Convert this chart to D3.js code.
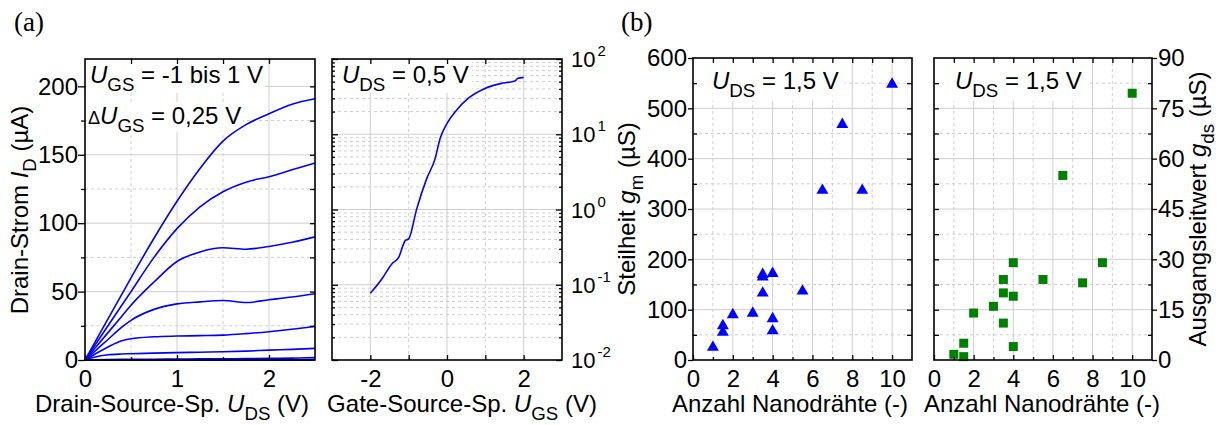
<!DOCTYPE html>
<html>
<head>
<meta charset="utf-8">
<script src="https://cdn.jsdelivr.net/npm/d3@7"></script>
<style>
  body { margin: 0; background: #fff; }
</style>
</head>
<body>
<svg id="fig" width="1220" height="425"></svg>
<script>
//Data ----------
//(a) output curves, I_D (uA) over U_DS (V), one array per U_GS
const uds = [0, 0.1, 0.25, 0.4, 0.5, 0.75, 1.0, 1.25, 1.5, 1.75, 2.0, 2.25, 2.5];
const id_p100 = [0, 12, 30, 48, 60, 89, 116, 140, 160, 172, 180, 187, 191];
const id_p075 = [0, 10, 25, 40, 50, 75, 96, 112, 123, 130, 134, 139, 144];
const id_p050 = [0, 8, 20, 32, 40, 57, 72, 79, 82, 81, 83, 86, 90];
const id_p025 = [0, 6, 15, 24, 29, 37, 41, 42.5, 43.5, 42, 44, 46, 48.5];
const id_000 = [0, 4, 9.5, 14, 15.5, 17, 17.5, 17.8, 18.2, 19.3, 20.7, 22.5, 24.5];
const id_m025 = [0, 2, 3.8, 4.4, 4.6, 5, 5.4, 5.7, 6, 6.5, 7.2, 7.8, 8.5];
const id_m050 = [0, 0.2, 0.4, 0.5, 0.5, 0.6, 0.7, 0.8, 0.9, 1.0, 1.2, 1.4, 1.7];
const id_m075 = [0, 0.02, 0.05, 0.07, 0.08, 0.1, 0.1, 0.12, 0.14, 0.16, 0.18, 0.2, 0.25];
const id_m100 = [0, 0, 0.01, 0.01, 0.01, 0.02, 0.02, 0.02, 0.03, 0.03, 0.03, 0.04, 0.04];
const outputCurves = [id_p100, id_p075, id_p050, id_p025, id_000, id_m025, id_m050, id_m075, id_m100];

//(a) transfer curve, U_DS = 0,5 V
const ugs = [-2.0, -1.7, -1.44, -1.26, -1.09, -1.0, -0.79, -0.53, -0.31, -0.18, 0.0, 0.21, 0.55, 0.99, 1.42, 1.77, 1.85, 2.0];
const idTransfer = [0.077, 0.119, 0.189, 0.231, 0.386, 0.407, 1.02, 2.57, 4.74, 8.77, 13.9, 19.8, 29.9, 40.6, 47.4, 50.9, 55.3, 57];

//(b) transconductance and output conductance over number of nanowires
const nwGm = [1, 1.5, 1.5, 2, 3, 3.5, 3.5, 3.5, 4, 4, 4, 5.5, 6.5, 7.5, 8.5, 10];
const gm = [25, 68, 55, 90, 93, 170, 165, 133, 172, 82, 58, 137, 337, 468, 337, 548];
const nwGds = [1, 1.5, 1.5, 2, 3, 3.5, 3.5, 3.5, 4, 4, 4, 5.5, 6.5, 7.5, 8.5, 10];
const gds = [1.7, 1, 5, 14, 16, 24, 20, 11, 29, 19, 4, 24, 55, 23, 29, 79.5];

//Tick labels
const ticksA1x = [0, 1, 2];
const ticksA1y = [0, 50, 100, 150, 200];
const ticksA2x = [-2, 0, 2];
const ticksA2y = [-2, -1, 0, 1, 2]; //exponents of 10
const ticksBx = [0, 2, 4, 6, 8, 10];
const ticksB1y = [0, 100, 200, 300, 400, 500, 600];
const ticksB2y = [0, 15, 30, 45, 60, 75, 90];

//Styles ----------
const FONT = "'Liberation Sans', Arial, sans-serif";
const FS = 24;
const BLUE = "#0000ff";
const GREEN = "#008000";
const GRID = "#cfcfcf";

const svg = d3.select("#fig");

//Helpers ----------
//Rich text: parts = [{t, i (italic), sub}]
function rich(sel, parts, size) {
  let shift = 0;
  parts.forEach((p) => {
    const target = p.sub ? size * 0.32 : 0;
    const ts = sel.append("tspan").text(p.t).attr("dy", target - shift);
    shift = target;
    if (p.i) ts.attr("font-style", "italic");
    if (p.sub) ts.attr("font-size", size * 0.78);
  });
  return sel;
}

function gridLines(g, x, y, xs, ys, dashed) {
  const [x0, x1] = x.range();
  const [y0, y1] = y.range();
  const lines = g.append("g")
    .attr("stroke", GRID)
    .attr("stroke-width", 1)
    .attr("stroke-dasharray", dashed ? "3,3" : null);
  lines.selectAll(null).data(xs).join("line")
    .attr("x1", (d) => x(d)).attr("x2", (d) => x(d))
    .attr("y1", y0).attr("y2", y1);
  lines.selectAll(null).data(ys).join("line")
    .attr("x1", x0).attr("x2", x1)
    .attr("y1", (d) => y(d)).attr("y2", (d) => y(d));
}

//Axis with ticks only (size > 0 outward, < 0 inward)
function axis(g, fn, scale, vals, size, fmt, pad, tx, ty) {
  const a = g.append("g")
    .attr("transform", `translate(${tx},${ty})`)
    .call(fn(scale).tickValues(vals).tickSize(size).tickPadding(pad)
      .tickFormat(fmt || (() => "")));
  a.select(".domain").remove();
  a.selectAll(".tick line").attr("stroke", "#000").attr("stroke-width", 1.3);
  a.selectAll(".tick text")
    .attr("font-size", FS).attr("font-family", FONT).attr("fill", "#000");
  return a;
}

function frame(g, x, y) {
  const [x0, x1] = x.range();
  const [y0, y1] = y.range();
  g.append("rect")
    .attr("x", x0).attr("y", y1)
    .attr("width", x1 - x0).attr("height", y0 - y1)
    .attr("fill", "none").attr("stroke", "#000").attr("stroke-width", 1.6);
}

//White box behind annotation text
function textBox(g, textSel, xLeft, yTop, padR, padB) {
  const bb = textSel.node().getBBox();
  g.insert("rect", ".data")
    .attr("x", xLeft).attr("y", yTop)
    .attr("width", bb.x + bb.width + padR - xLeft)
    .attr("height", bb.y + bb.height + padB - yTop)
    .attr("fill", "#fff");
}

function annot(g, x, y, parts) {
  const t = g.append("text")
    .attr("x", x).attr("y", y)
    .attr("font-size", FS).attr("font-family", FONT);
  return rich(t, parts, FS);
}

function title(g, x, y, parts, rotate) {
  const t = g.append("text")
    .attr("text-anchor", "middle")
    .attr("font-size", FS).attr("font-family", FONT)
    .attr("transform", `translate(${x},${y})` + (rotate ? " rotate(-90)" : ""));
  return rich(t, parts, FS);
}

function range(a, b, step) {
  return d3.range(a, b + step / 2, step);
}

//Panel labels ----------
svg.append("text").attr("x", 14).attr("y", 31)
  .attr("font-family", "'Liberation Serif', 'Times New Roman', serif")
  .attr("font-size", 27).text("(a)");
svg.append("text").attr("x", 621).attr("y", 31)
  .attr("font-family", "'Liberation Serif', 'Times New Roman', serif")
  .attr("font-size", 27).text("(b)");

//Panel a1: output characteristics ----------
{
  const g = svg.append("g");
  const x = d3.scaleLinear().domain([0, 2.5]).range([85, 315]);
  const y = d3.scaleLinear().domain([0, 220]).range([360, 59]);

  gridLines(g, x, y, [0.5, 1.5], range(25, 200, 50), true);
  gridLines(g, x, y, [1, 2], range(50, 200, 50), false);
  g.append("g").attr("class", "data");

  const t1 = annot(g, 90, 83, [{ t: "U", i: true }, { t: "GS", sub: true }, { t: " = -1 bis 1 V" }]);
  const t2 = g.append("text").attr("x", 88).attr("y", 124)
    .attr("font-size", FS).attr("font-family", FONT);
  t2.append("tspan").text("\u0394").attr("font-size", 18);
  rich(t2, [{ t: "U", i: true }, { t: "GS", sub: true }, { t: " = 0,25 V" }], FS);
  textBox(g, t1, 87, 60, 2, -2);
  textBox(g, t2, 87, 102, 2, -4);

  const line = d3.line().curve(d3.curveMonotoneX)
    .x((d, i) => x(uds[i])).y((d) => y(d));
  g.select(".data").selectAll("path").data(outputCurves).join("path")
    .attr("d", line)
    .attr("fill", "none").attr("stroke", BLUE).attr("stroke-width", 1.6);

  frame(g, x, y);
  axis(g, d3.axisBottom, x, ticksA1x, -5, (d) => d, 10, 0, 360);
  axis(g, d3.axisBottom, x, [0.5, 1.5], -3, null, 0, 0, 360);
  axis(g, d3.axisTop, x, range(0.5, 2, 0.5), -5, null, 0, 0, 59);
  axis(g, d3.axisLeft, y, ticksA1y, 7, (d) => d, 0, 85, 0);
  axis(g, d3.axisLeft, y, range(25, 175, 50), 4, null, 0, 85, 0);
  axis(g, d3.axisRight, y, range(25, 200, 25), -5, null, 0, 315, 0);

  title(g, 172, 412, [{ t: "Drain-Source-Sp. " }, { t: "U", i: true }, { t: "DS", sub: true }, { t: " (V)" }]);
  title(g, 28, 210, [{ t: "Drain-Strom " }, { t: "I", i: true }, { t: "D", sub: true }, { t: " (\u00b5A)" }], true);
}

//Panel a2: transfer characteristic (log) ----------
{
  const g = svg.append("g");
  const x = d3.scaleLinear().domain([-3, 3]).range([332, 562]);
  const y = d3.scaleLog().domain([0.01, 100]).range([360, 59]);

  const decades = [0.01, 0.1, 1, 10, 100];
  const minors = [];
  [0.01, 0.1, 1, 10].forEach((dec) => d3.range(2, 10).forEach((k) => minors.push(dec * k)));

  gridLines(g, x, y, [-1, 1], minors, true);
  gridLines(g, x, y, [-2, 0, 2], [0.1, 1, 10], false);
  g.append("g").attr("class", "data");

  const t1 = annot(g, 342, 83, [{ t: "U", i: true }, { t: "DS", sub: true }, { t: " = 0,5 V" }]);
  textBox(g, t1, 334, 60, 3, -2);

  const line = d3.line().curve(d3.curveMonotoneX)
    .x((d, i) => x(ugs[i])).y((d) => y(d));
  g.select(".data").append("path").datum(idTransfer)
    .attr("d", line)
    .attr("fill", "none").attr("stroke", BLUE).attr("stroke-width", 1.6);

  frame(g, x, y);
  axis(g, d3.axisBottom, x, ticksA2x, -5, (d) => d, 10, 0, 360);
  axis(g, d3.axisBottom, x, [-1, 1], -5, null, 0, 0, 360);
  axis(g, d3.axisTop, x, range(-2, 2, 1), -5, null, 0, 0, 59);
  axis(g, d3.axisLeft, y, decades, -6, null, 0, 332, 0);
  axis(g, d3.axisLeft, y, minors, -3, null, 0, 332, 0);
  axis(g, d3.axisRight, y, decades, -6, null, 0, 562, 0);
  axis(g, d3.axisRight, y, minors, -3, null, 0, 562, 0);

  //Right log labels 10^n
  const lab = g.selectAll(".loglab").data(ticksA2y).join("text")
    .attr("class", "loglab")
    .attr("x", 571)
    .attr("y", (d) => y(Math.pow(10, d)) + 8)
    .attr("font-size", 22).attr("font-family", FONT);
  lab.append("tspan").text("10");
  lab.append("tspan").text((d) => d).attr("font-size", 15).attr("dy", -11).attr("dx", 2);

  title(g, 462, 412, [{ t: "Gate-Source-Sp. " }, { t: "U", i: true }, { t: "GS", sub: true }, { t: " (V)" }]);
}

//Panel b1: transconductance ----------
{
  const g = svg.append("g");
  const x = d3.scaleLinear().domain([0, 11]).range([693, 912]);
  const y = d3.scaleLinear().domain([0, 600]).range([360, 58]);

  gridLines(g, x, y, range(1, 9, 2), range(50, 550, 100), true);
  gridLines(g, x, y, range(2, 10, 2), range(100, 500, 100), false);
  g.append("g").attr("class", "data");

  const t1 = annot(g, 712, 89, [{ t: "U", i: true }, { t: "DS", sub: true }, { t: " = 1,5 V" }]);
  textBox(g, t1, 694, 59, 6, 0);

  g.select(".data").selectAll("path").data(gm).join("path")
    .attr("transform", (d, i) => `translate(${x(nwGm[i])},${y(d)})`)
    .attr("d", d3.symbol(d3.symbolTriangle, 62))
    .attr("fill", BLUE);

  frame(g, x, y);
  axis(g, d3.axisBottom, x, ticksBx, -5, (d) => d, 10, 0, 360);
  axis(g, d3.axisBottom, x, range(1, 9, 2), -3, null, 0, 0, 360);
  axis(g, d3.axisTop, x, range(1, 10, 1), -5, null, 0, 0, 58);
  axis(g, d3.axisLeft, y, ticksB1y, 5, (d) => d, 1, 693, 0);
  axis(g, d3.axisLeft, y, range(50, 550, 100), -4, null, 0, 693, 0);
  axis(g, d3.axisRight, y, range(50, 550, 50), -5, null, 0, 912, 0);

  title(g, 790, 412, [{ t: "Anzahl Nanodr\u00e4hte (-)" }]);
  title(g, 635, 209, [{ t: "Steilheit " }, { t: "g", i: true }, { t: "m", sub: true }, { t: " (\u00b5S)" }], true);
}

//Panel b2: output conductance ----------
{
  const g = svg.append("g");
  const x = d3.scaleLinear().domain([0, 11]).range([934, 1152]);
  const y = d3.scaleLinear().domain([0, 90]).range([360, 58]);

  gridLines(g, x, y, range(1, 9, 2), range(7.5, 82.5, 15), true);
  gridLines(g, x, y, range(2, 10, 2), range(15, 75, 15), false);
  g.append("g").attr("class", "data");

  const t1 = annot(g, 955, 89, [{ t: "U", i: true }, { t: "DS", sub: true }, { t: " = 1,5 V" }]);
  textBox(g, t1, 935, 59, 6, 0);

  g.select(".data").selectAll("path").data(gds).join("path")
    .attr("transform", (d, i) => `translate(${x(nwGds[i])},${y(d)})`)
    .attr("d", d3.symbol(d3.symbolSquare, 81))
    .attr("fill", GREEN);

  frame(g, x, y);
  axis(g, d3.axisBottom, x, ticksBx, -5, (d) => d, 10, 0, 360);
  axis(g, d3.axisBottom, x, range(1, 9, 2), -3, null, 0, 0, 360);
  axis(g, d3.axisTop, x, range(1, 10, 1), -5, null, 0, 0, 58);
  axis(g, d3.axisLeft, y, range(7.5, 82.5, 7.5), -5, null, 0, 934, 0);
  axis(g, d3.axisRight, y, ticksB2y, 5, (d) => d, 1, 1152, 0);
  axis(g, d3.axisRight, y, range(7.5, 82.5, 15), -4, null, 0, 1152, 0);

  title(g, 1042, 412, [{ t: "Anzahl Nanodr\u00e4hte (-)" }]);
  title(g, 1206, 209, [{ t: "Ausgangsleitwert " }, { t: "g", i: true }, { t: "ds", sub: true }, { t: " (\u00b5S)" }], true);
}
</script>
</body>
</html>
